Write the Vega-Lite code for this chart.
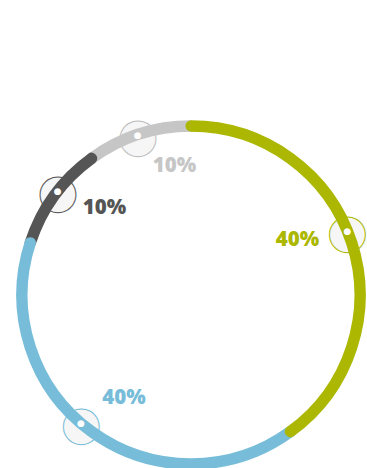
{
  "$schema": "https://vega.github.io/schema/vega-lite/v6.json",
  "width": 352,
  "height": 346,
  "autosize": {"type": "none"},
  "padding": {"left": 15, "top": 122, "right": 0, "bottom": 0},
  "background": "white",
  "view": {"stroke": null},
  "data": {
    "values": [
      {"segment": "D", "seg": 4, "value": 10, "label": "10%"},
      {"segment": "C", "seg": 3, "value": 10, "label": "10%"},
      {"segment": "B", "seg": 2, "value": 40, "label": "40%"},
      {"segment": "A", "seg": 1, "value": 40, "label": "40%"}
    ]
  },
  "layer": [
    {
      "transform": [
        {"stack": "value", "groupby": [], "sort": [{"field": "seg", "order": "ascending"}], "as": ["v0", "v1"]}
      ],
      "encoding": {
        "theta": {"field": "v0", "type": "quantitative", "scale": {"domain": [0, 100]}},
        "text": {"value": "●"},
        "stroke": {"field": "segment", "type": "nominal", "scale": {"domain": ["A", "B", "C", "D"], "range": ["#abb700", "#77bdd9", "#555555", "#bdbdbd"]}, "legend": null}
      },
      "layer": [
        {"transform": [{"filter": {"field": "segment", "equal": "A"}}], "mark": {"type": "text", "font": "DejaVu Sans", "fontSize": 47, "radius": 169, "thetaOffset": 1.1816, "fill": "#eeeeee", "fillOpacity": 0.5, "strokeWidth": 1, "baseline": "middle", "align": "center", "dy": 2}},
        {"transform": [{"filter": {"field": "segment", "equal": "B"}}], "mark": {"type": "text", "font": "DejaVu Sans", "fontSize": 47, "radius": 169, "thetaOffset": 1.3369, "fill": "#eeeeee", "fillOpacity": 0.5, "strokeWidth": 1, "baseline": "middle", "align": "center", "dy": 2}},
        {"transform": [{"filter": {"field": "segment", "equal": "C"}}], "mark": {"type": "text", "font": "DejaVu Sans", "fontSize": 47, "radius": 169, "thetaOffset": 0.3473, "fill": "#eeeeee", "fillOpacity": 0.5, "strokeWidth": 1, "baseline": "middle", "align": "center", "dy": 2}},
        {"transform": [{"filter": {"field": "segment", "equal": "D"}}], "mark": {"type": "text", "font": "DejaVu Sans", "fontSize": 47, "radius": 169, "thetaOffset": 0.3072, "fill": "#eeeeee", "fillOpacity": 0.5, "strokeWidth": 1, "baseline": "middle", "align": "center", "dy": 2}}
      ]
    },
    {
      "encoding": {
        "theta": {"field": "value", "type": "quantitative", "stack": true, "scale": {"domain": [0, 100]}},
        "order": {"field": "seg", "type": "quantitative"},
        "color": {
          "field": "segment",
          "type": "nominal",
          "scale": {"domain": ["A", "B", "C", "D"], "range": ["#abb700", "#77bdd9", "#555555", "#c6c6c6"]},
          "legend": null
        }
      },
      "mark": {"type": "arc", "filled": false, "radius": 169.2, "radius2": 168.8, "strokeWidth": 11, "strokeJoin": "round"}
    },
    {
      "transform": [
        {"stack": "value", "groupby": [], "sort": [{"field": "seg", "order": "ascending"}], "as": ["v0", "v1"]}
      ],
      "encoding": {
        "theta": {"field": "v0", "type": "quantitative", "scale": {"domain": [0, 100]}},
        "text": {"field": "label"},
        "color": {"field": "segment", "type": "nominal", "legend": null}
      },
      "layer": [
        {
          "transform": [{"filter": {"field": "segment", "equal": "A"}}],
          "layer": [
            {"mark": {"type": "text", "font": "DejaVu Sans", "fontSize": 9, "radius": 169, "thetaOffset": 1.1816, "baseline": "middle", "align": "center"}, "encoding": {"color": {"value": "white"}, "text": {"value": "●"}}},
            {"mark": {"type": "text", "radius": 119.9, "thetaOffset": 1.0943, "font": "Open Sans", "fontWeight": 800, "fontSize": 20.5, "baseline": "middle", "align": "center"}}
          ]
        },
        {
          "transform": [{"filter": {"field": "segment", "equal": "B"}}],
          "layer": [
            {"mark": {"type": "text", "font": "DejaVu Sans", "fontSize": 9, "radius": 169, "thetaOffset": 1.3369, "baseline": "middle", "align": "center"}, "encoding": {"color": {"value": "white"}, "text": {"value": "●"}}},
            {"mark": {"type": "text", "radius": 122.9, "thetaOffset": 1.2043, "font": "Open Sans", "fontWeight": 800, "fontSize": 20.5, "baseline": "middle", "align": "center"}}
          ]
        },
        {
          "transform": [{"filter": {"field": "segment", "equal": "C"}}],
          "layer": [
            {"mark": {"type": "text", "font": "DejaVu Sans", "fontSize": 9, "radius": 169, "thetaOffset": 0.3473, "baseline": "middle", "align": "center"}, "encoding": {"color": {"value": "white"}, "text": {"value": "●"}}},
            {"mark": {"type": "text", "radius": 123, "thetaOffset": 0.4765, "font": "Open Sans", "fontWeight": 800, "fontSize": 20.5, "baseline": "middle", "align": "center"}}
          ]
        },
        {
          "transform": [{"filter": {"field": "segment", "equal": "D"}}],
          "layer": [
            {"mark": {"type": "text", "font": "DejaVu Sans", "fontSize": 9, "radius": 169, "thetaOffset": 0.3072, "baseline": "middle", "align": "center"}, "encoding": {"color": {"value": "white"}, "text": {"value": "●"}}},
            {"mark": {"type": "text", "radius": 130.1, "thetaOffset": 0.5009, "font": "Open Sans", "fontWeight": 800, "fontSize": 20.5, "baseline": "middle", "align": "center"}}
          ]
        }
      ]
    }
  ]
}
